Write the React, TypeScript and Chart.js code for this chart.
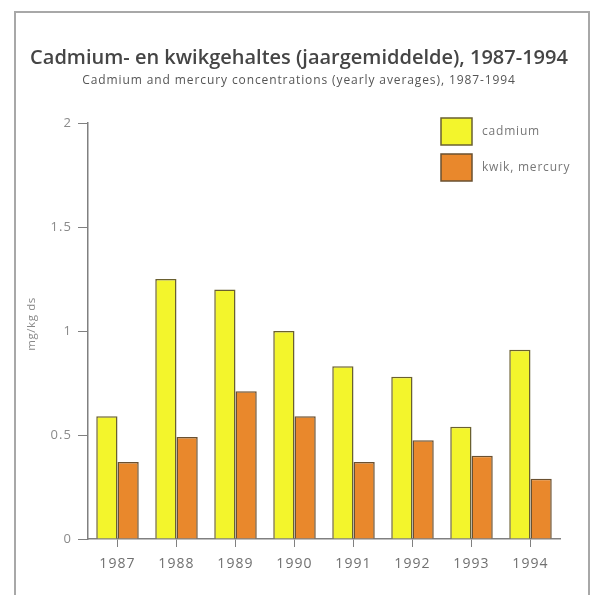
import React, { useEffect, useRef } from "react";
import { Chart, registerables } from "chart.js";

Chart.register(...registerables);

const categories = ["1987", "1988", "1989", "1990", "1991", "1992", "1993", "1994"];
const cadmium = [0.59, 1.25, 1.2, 1.0, 0.83, 0.78, 0.54, 0.91];
const mercury = [0.37, 0.49, 0.71, 0.59, 0.37, 0.475, 0.4, 0.29];
const seriesLabels = ["cadmium", "kwik, mercury"];
const yTicks = [0, 0.5, 1, 1.5, 2];
const titleText = "Cadmium- en kwikgehaltes (jaargemiddelde), 1987-1994";
const subtitleText = "Cadmium and mercury concentrations (yearly averages), 1987-1994";
const yAxisTitle = "mg/kg ds";

const FONT = "'Open Sans', 'Noto Sans', sans-serif";

const decorPlugin = {
  id: "decor",
  beforeDraw(chart: any) {
    const ctx = chart.ctx;
    ctx.save();
    ctx.fillStyle = "#ffffff";
    ctx.fillRect(0, 0, chart.width, chart.height);
    ctx.strokeStyle = "#a8a8a8";
    ctx.lineWidth = 2;
    ctx.beginPath();
    ctx.moveTo(15, 595);
    ctx.lineTo(15, 12);
    ctx.lineTo(589, 12);
    ctx.lineTo(589, 595);
    ctx.stroke();
    ctx.restore();
    ctx.letterSpacing = "1.1px";
  },
  afterDraw(chart: any) {
    const ctx = chart.ctx;
    ctx.save();
    ctx.textAlign = "center";
    ctx.textBaseline = "middle";
    ctx.letterSpacing = "0px";
    ctx.fillStyle = "#454545";
    ctx.font = `600 20px ${FONT}`;
    ctx.fillText(titleText, 299, 58);
    ctx.letterSpacing = "0.9px";
    ctx.fillStyle = "#555555";
    ctx.font = `12px ${FONT}`;
    ctx.fillText(subtitleText, 299, 81);
    ctx.save();
    ctx.translate(32, 324);
    ctx.rotate(-Math.PI / 2);
    ctx.fillStyle = "#888888";
    ctx.letterSpacing = "0.6px";
    ctx.font = `11.5px ${FONT}`;
    ctx.fillText(yAxisTitle, 0, 0);
    ctx.restore();
    const ds = chart.data.datasets;
    ds.forEach((d: any, i: number) => {
      const y = 118 + i * 36;
      ctx.fillStyle = d.backgroundColor;
      ctx.strokeStyle = d.borderColor;
      ctx.lineWidth = 1.5;
      ctx.fillRect(441, y, 31, 27);
      ctx.strokeRect(441, y, 31, 27);
      ctx.fillStyle = "#777777";
      ctx.font = `12px ${FONT}`;
      ctx.letterSpacing = "0.8px";
      ctx.textAlign = "left";
      ctx.fillText(d.label, 482, y + 14);
    });
    ctx.restore();
    ctx.letterSpacing = "0px";
  },
};

export default function App() {
  const ref = useRef<HTMLCanvasElement>(null);
  useEffect(() => {
    document.body.style.margin = "0";
    const chart = new Chart(ref.current!, {
      type: "bar",
      data: {
        labels: categories,
        datasets: [
          {
            label: seriesLabels[0],
            data: cadmium,
            backgroundColor: "#f3f52c",
            borderColor: "#6a6030",
            borderWidth: 1.5,
            categoryPercentage: 0.72,
            barPercentage: 1,
          },
          {
            label: seriesLabels[1],
            data: mercury,
            backgroundColor: "#e9882c",
            borderColor: "#6a5030",
            borderWidth: 1.5,
            categoryPercentage: 0.72,
            barPercentage: 1,
          },
        ],
      },
      options: {
        animation: false,
        responsive: false,
        layout: { padding: { left: 15, right: 32, top: 123, bottom: 26 } },
        plugins: {
          legend: { display: false },
          title: { display: false },
          tooltip: { enabled: false },
        },
        scales: {
          x: {
            offset: true,
            grid: {
              offset: false,
              drawOnChartArea: false,
              drawTicks: true,
              tickLength: 8,
              color: "#808080",
              lineWidth: 1,
            },
            border: { display: true, color: "#808080", width: 1.5 },
            ticks: {
              color: "#707070",
              font: { family: FONT, size: 14 },
              padding: 9,
            },
            afterFit(scale: any) {
              scale.height = 30;
            },
          },
          y: {
            min: 0,
            max: 2,
            afterBuildTicks(scale: any) {
              scale.ticks = yTicks.map((v) => ({ value: v }));
            },
            grid: {
              drawOnChartArea: false,
              drawTicks: true,
              tickLength: 10,
              color: "#808080",
            },
            border: { display: true, color: "#808080", width: 1.5 },
            ticks: {
              color: "#8a8a8a",
              font: { family: FONT, size: 13 },
              padding: 6,
              callback: (v: any) => String(v),
            },
            afterFit(scale: any) {
              scale.width = 73;
            },
          },
        },
      },
      plugins: [decorPlugin],
    });
    return () => chart.destroy();
  }, []);
  return (
    <div style={{ position: "absolute", left: 0, top: 0, width: 592, height: 595 }}>
      <canvas ref={ref} width={592} height={595} style={{ width: 592, height: 595 }} />
    </div>
  );
}
